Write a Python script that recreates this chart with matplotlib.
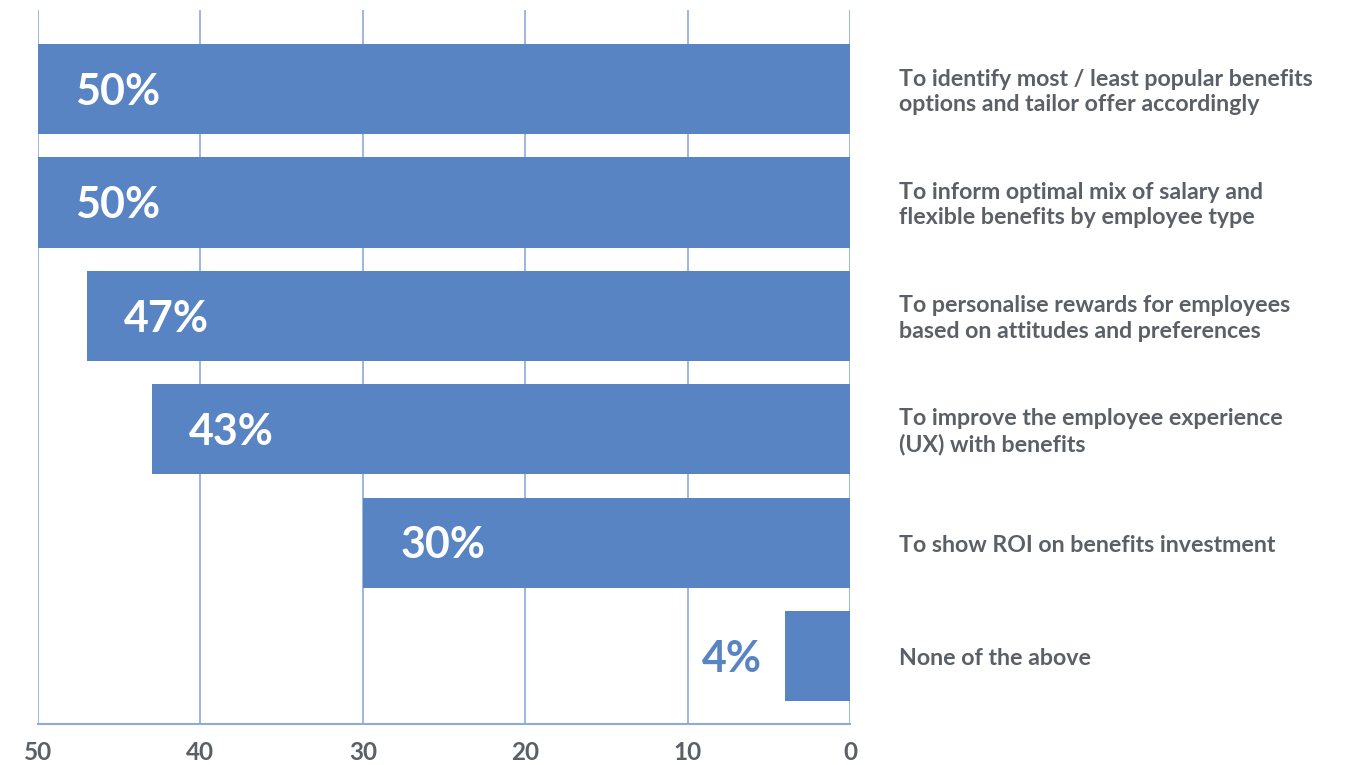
import matplotlib.pyplot as plt

categories = [
    'To identify most / least popular benefits\noptions and tailor offer accordingly',
    'To inform optimal mix of salary and\nflexible benefits by employee type',
    'To personalise rewards for employees\nbased on attitudes and preferences',
    'To improve the employee experience\n(UX) with benefits',
    'To show ROI on benefits investment',
    'None of the above',
]
values = [50, 50, 47, 43, 30, 4]
ticks = [50, 40, 30, 20, 10, 0]

bar_color = '#5884c4'
grid_color = '#8eaadc'
text_gray = '#5b5f66'

plt.rcParams['font.family'] = ['Lato', 'DejaVu Sans']

fig = plt.figure(figsize=(13.51, 7.65), dpi=100)
ax = fig.add_axes([0.0281, 0.0536, 0.6011, 0.9333])

pos = list(range(len(values)))
ax.barh(pos, values, height=0.795, color=bar_color, zorder=3)

ax.set_xlim(50, 0)
ax.set_ylim(5.6, -0.697)
ax.set_xticks(ticks)
ax.set_xticklabels([str(t) for t in ticks], fontsize=17.5, fontweight='bold', color=text_gray)
ax.set_yticks([])
ax.tick_params(axis='x', length=0, pad=12)
ax.grid(axis='x', color=grid_color, linewidth=1.2, zorder=0)

for s in ['top', 'right', 'left']:
    ax.spines[s].set_visible(False)
ax.spines['bottom'].set_color(grid_color)
ax.spines['bottom'].set_linewidth(1.5)

for i, v in enumerate(values):
    if v > 10:
        ax.annotate(f'{v}%', xy=(v, i), xytext=(27, -2), textcoords='offset points',
                    ha='left', va='center', fontsize=31, fontweight='bold',
                    color='white', zorder=4)
    else:
        ax.annotate(f'{v}%', xy=(v, i), xytext=(-17, -2), textcoords='offset points',
                    ha='right', va='center', fontsize=31, fontweight='bold',
                    color=bar_color, zorder=4)
    ax.annotate(categories[i], xy=(0, i), xytext=(35, -2), textcoords='offset points',
                ha='left', va='center', fontsize=16.7, fontweight='bold',
                color=text_gray, linespacing=1.25, annotation_clip=False)

fig.savefig('out.png', dpi=100)
